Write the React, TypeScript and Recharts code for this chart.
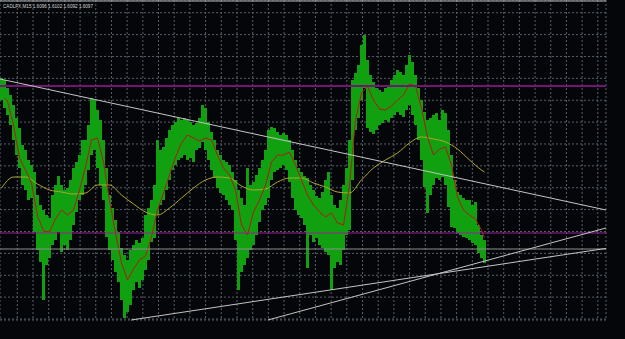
import React from 'react';
import { ComposedChart, Bar, Line, XAxis, YAxis, CartesianGrid, ReferenceLine } from 'recharts';

// CADLFX M15 — one entry per 3 bars
const highs = [
  1.6186, 1.6185, 1.6181, 1.61775, 1.61725, 1.6166, 1.6161, 1.61525, 1.615, 1.6145,
  1.61425, 1.6139, 1.61275, 1.61225, 1.612, 1.61175, 1.6116, 1.61275, 1.61325, 1.6137,
  1.61325, 1.613, 1.6131, 1.6135, 1.6141, 1.6144, 1.61475, 1.6155, 1.6155, 1.61625,
  1.6176, 1.6175, 1.617, 1.6165, 1.6155, 1.6141, 1.61275, 1.6121, 1.6115, 1.6109,
  1.6101, 1.60975, 1.6095, 1.61, 1.61025, 1.6105, 1.61035, 1.6106, 1.61175, 1.6121,
  1.6125, 1.61325, 1.6155, 1.615, 1.61515, 1.6156, 1.616, 1.61625, 1.6164, 1.6166,
  1.6165, 1.6166, 1.6165, 1.6164, 1.61625, 1.61635, 1.6166, 1.61725, 1.6171, 1.6164,
  1.6159, 1.6155, 1.615, 1.61475, 1.6145, 1.6144, 1.61425, 1.6139, 1.6135, 1.613,
  1.6126, 1.61225, 1.6141, 1.61325, 1.6134, 1.61375, 1.6141, 1.6145, 1.615, 1.616,
  1.61615, 1.6161, 1.6159, 1.61575, 1.61585, 1.61575, 1.6155, 1.615, 1.6145, 1.6141,
  1.6139, 1.6137, 1.6136, 1.61325, 1.613, 1.6127, 1.6126, 1.6129, 1.6135, 1.6139,
  1.61275, 1.61225, 1.6121, 1.6125, 1.61325, 1.6141, 1.6155, 1.6185, 1.61885, 1.61925,
  1.62025, 1.62075, 1.6195, 1.61875, 1.6184, 1.6181, 1.618, 1.6179, 1.6181, 1.61825,
  1.6185, 1.61875, 1.619, 1.6189, 1.61875, 1.61925, 1.61975, 1.6194, 1.61875, 1.6181,
  1.6175, 1.6169, 1.6165, 1.6166, 1.61675, 1.61685, 1.6165, 1.617, 1.61685, 1.616,
  1.61475, 1.6135, 1.6129, 1.61275, 1.6126, 1.6125, 1.6125, 1.61225, 1.6124, 1.61125,
  1.61075, 1.6105,
];

const lows = [
  1.6175, 1.6171, 1.61675, 1.61625, 1.6155, 1.61475, 1.6141, 1.61325, 1.613, 1.6125,
  1.6126, 1.6109, 1.61, 1.6094, 1.6075, 1.60925, 1.6096, 1.61025, 1.6105, 1.6109,
  1.6099, 1.61025, 1.61, 1.6105, 1.61125, 1.6119, 1.6125, 1.61275, 1.61325, 1.614,
  1.61475, 1.615, 1.6141, 1.61325, 1.6125, 1.61065, 1.61, 1.6095, 1.6089, 1.6084,
  1.6075, 1.6066, 1.6069, 1.60725, 1.608, 1.6084, 1.6081, 1.6085, 1.609, 1.6095,
  1.6104, 1.6106, 1.61175, 1.61225, 1.6125, 1.613, 1.6135, 1.614, 1.61425, 1.6145,
  1.6146, 1.61475, 1.6145, 1.6146, 1.6144, 1.615, 1.6151, 1.6154, 1.615, 1.6145,
  1.614, 1.6136, 1.6131, 1.61285, 1.61275, 1.6125, 1.61225, 1.612, 1.6105, 1.608,
  1.6089, 1.60925, 1.6096, 1.61, 1.61025, 1.61075, 1.6114, 1.612, 1.61225, 1.6126,
  1.6135, 1.6139, 1.614, 1.6141, 1.61425, 1.614, 1.6134, 1.6126, 1.612, 1.61175,
  1.6116, 1.61125, 1.6091, 1.61075, 1.6104, 1.6106, 1.61025, 1.6101, 1.6099, 1.60975,
  1.608, 1.6091, 1.6094, 1.60925, 1.61, 1.61075, 1.611, 1.6135, 1.616, 1.6166,
  1.6175, 1.6181, 1.6161, 1.6159, 1.6158, 1.616, 1.61625, 1.61635, 1.6165, 1.6164,
  1.6166, 1.61675, 1.6169, 1.61675, 1.61665, 1.617, 1.61725, 1.61675, 1.61625, 1.6155,
  1.6145, 1.61315, 1.61185, 1.61275, 1.61325, 1.6136, 1.6135, 1.61365, 1.61325, 1.61215,
  1.61115, 1.6111, 1.61085, 1.61075, 1.61065, 1.6106, 1.6105, 1.61035, 1.61025, 1.60985,
  1.6096, 1.60935,
];

// fast MA (red): [bar index, price]
const fastMa: [number, number][] = [
  [1, 1.6176], [2, 1.61745], [4, 1.61625], [6, 1.6146], [8, 1.614], [10, 1.61335],
  [12, 1.6117], [14, 1.61095], [16, 1.6109], [18, 1.61155], [20, 1.612], [22, 1.61175],
  [24, 1.612], [26, 1.613], [28, 1.61415], [30, 1.6155], [32, 1.6156], [34, 1.6144],
  [36, 1.6125], [38, 1.61085], [40, 1.60935], [42, 1.6085], [44, 1.60905], [46, 1.6095],
  [48, 1.6097], [50, 1.61065], [52, 1.612], [54, 1.61285], [56, 1.61375], [58, 1.61465],
  [60, 1.61535], [62, 1.61575], [64, 1.6156], [66, 1.61545], [68, 1.6156], [70, 1.6155],
  [72, 1.61475], [74, 1.6141], [76, 1.61375], [78, 1.613], [80, 1.61125], [82, 1.61075],
  [84, 1.6119], [86, 1.6125], [88, 1.61325], [90, 1.6144], [92, 1.61475], [94, 1.61475],
  [96, 1.6149], [98, 1.61425], [100, 1.6135], [102, 1.61275], [104, 1.61225], [106, 1.6119],
  [108, 1.61165], [110, 1.61185], [112, 1.61135], [114, 1.61125], [116, 1.61325], [118, 1.6165],
  [120, 1.61785], [122, 1.6182], [124, 1.6175], [126, 1.61705], [128, 1.617], [130, 1.6172],
  [132, 1.6175], [134, 1.61775], [136, 1.6183], [138, 1.6182], [140, 1.6171], [142, 1.61565],
  [144, 1.61475], [146, 1.61505], [148, 1.61515], [150, 1.61425], [152, 1.61265], [154, 1.612],
  [156, 1.61175], [158, 1.61155], [160, 1.611], [161, 1.6106],
];

// slow MA (yellow): [bar index, price]
const slowMa: [number, number][] = [
  [0, 1.6131], [4, 1.61365], [8, 1.61365], [12, 1.6133], [16, 1.613], [20, 1.6129],
  [24, 1.6128], [28, 1.61285], [32, 1.61325], [36, 1.61325], [40, 1.61275], [44, 1.6123],
  [48, 1.6119], [52, 1.61175], [56, 1.6121], [60, 1.6126], [64, 1.6131], [68, 1.6135],
  [72, 1.61365], [76, 1.6136], [80, 1.6132], [84, 1.613], [88, 1.61305], [92, 1.6134],
  [96, 1.6136], [100, 1.6136], [104, 1.61335], [108, 1.61315], [112, 1.6129], [116, 1.61285],
  [120, 1.6135], [124, 1.6141], [128, 1.6145], [132, 1.61485], [136, 1.61535], [140, 1.61565],
  [144, 1.61555], [148, 1.6154], [152, 1.61505], [156, 1.6145], [160, 1.614], [161, 1.6139],
];

const symbol = 'CADLFX,M15';
const lastBar = ['1.6096', '1.6102', '1.6092', '1.6097'];

const upperLevel = 1.6182;
const lowerLevel = 1.61085;
const pivotLevel = 1.61005;

const trendLines: [number, number][][] = [
  [[-0.5, 1.61855], [201.5, 1.612]],
  [[88.8, 1.6065], [201.5, 1.6111]],
  [[43.2, 1.6065], [201.5, 1.61008]],
];

const xTicks = Array.from({ length: 38 }, (_, k) => 5.27 + 5.23 * k);
const yTicks = Array.from({ length: 15 }, (_, k) => 1.621865 - 0.001094 * k);

const fastMap = new Map(fastMa);
const slowMap = new Map(slowMa);
const rows = highs.map((h, i) => ({
  i,
  range: [lows[i], h],
  fast: fastMap.get(i) ?? null,
  slow: slowMap.get(i) ?? null,
}));

const BG = '#05060a';

export default function App() {
  return (
    <div style={{ position: 'absolute', left: 0, top: 0, width: 625, height: 339, background: BG }}>
      <ComposedChart
        width={625}
        height={339}
        data={rows}
        barCategoryGap={0}
        barGap={0}
        margin={{ top: 0, right: 19, bottom: 19, left: 0 }}
      >
        <CartesianGrid stroke="#56606a" strokeDasharray="2 2" strokeWidth={1} />
        <XAxis type="number" dataKey="i" domain={[-0.5, 201.5]} ticks={xTicks} interval={0} hide allowDataOverflow />
        <YAxis type="number" domain={[1.6065, 1.6225]} ticks={yTicks} interval={0} hide allowDataOverflow />
        <Bar dataKey="range" fill="#10a010" barSize={3} shapeRendering="crispEdges" isAnimationActive={false} />
        <Line dataKey="slow" stroke="#b3a82a" strokeWidth={1} dot={false} connectNulls type="monotone" isAnimationActive={false} />
        <Line dataKey="fast" stroke="#b51818" strokeWidth={1} dot={false} connectNulls type="linear" isAnimationActive={false} />
        <ReferenceLine y={1.62245} stroke="#bcbcbc" ifOverflow="visible" />
        <ReferenceLine y={upperLevel} stroke="#721676" strokeWidth={2} ifOverflow="visible" />
        <ReferenceLine y={lowerLevel} stroke="#9b1f97" strokeWidth={1} ifOverflow="visible" />
        <ReferenceLine y={pivotLevel} stroke="#8e8e8e" strokeWidth={1} ifOverflow="visible" />
        {trendLines.map((seg, k) => (
          <ReferenceLine
            key={k}
            segment={[{ x: seg[0][0], y: seg[0][1] }, { x: seg[1][0], y: seg[1][1] }]}
            stroke="#c4c4c4"
            strokeWidth={1}
            ifOverflow="visible"
          />
        ))}
      </ComposedChart>
      <svg width={120} height={12} style={{ position: 'absolute', left: 0, top: 0 }}>
        <text x={3} y={8} fontSize={6} fill="#d6d6d6" fontFamily="Liberation Sans, Arial, sans-serif" textLength={90} lengthAdjust="spacingAndGlyphs">
          {symbol + '  ' + lastBar.join(' ')}
        </text>
      </svg>
    </div>
  );
}
